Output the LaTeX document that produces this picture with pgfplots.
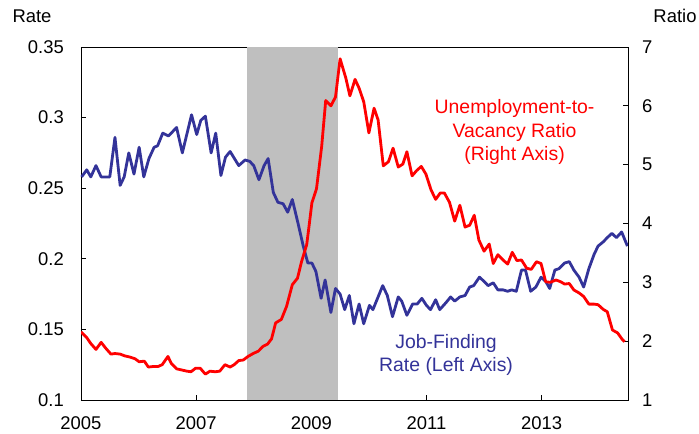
\documentclass[border=0pt]{standalone}
\usepackage{pgfplots}
\pgfplotsset{compat=1.18}
\usepackage{pgfplotstable}
\usepackage{fontspec}
\setmainfont{Liberation Sans}
\definecolor{jfblue}{RGB}{51,51,153}
\definecolor{uvred}{RGB}{255,0,0}
\definecolor{recgray}{RGB}{191,191,191}

\pgfplotstableread{
year rate
2005.01 0.258
2005.10 0.263
2005.17 0.258
2005.26 0.266
2005.35 0.258
2005.50 0.258
2005.59 0.286
2005.68 0.252
2005.75 0.258
2005.83 0.275
2005.92 0.260
2006.01 0.279
2006.09 0.258
2006.18 0.271
2006.27 0.279
2006.33 0.280
2006.42 0.289
2006.52 0.287
2006.66 0.293
2006.76 0.275
2006.92 0.302
2007.01 0.288
2007.08 0.298
2007.16 0.301
2007.26 0.275
2007.34 0.289
2007.43 0.259
2007.51 0.272
2007.59 0.276
2007.74 0.266
2007.85 0.270
2007.93 0.269
2008.00 0.266
2008.09 0.256
2008.18 0.266
2008.25 0.271
2008.34 0.247
2008.42 0.240
2008.51 0.239
2008.59 0.233
2008.67 0.242
2008.77 0.225
2008.86 0.209
2008.94 0.197
2009.01 0.197
2009.08 0.191
2009.17 0.172
2009.24 0.185
2009.34 0.162
2009.42 0.179
2009.50 0.175
2009.58 0.164
2009.66 0.174
2009.74 0.154
2009.83 0.168
2009.91 0.154
2010.01 0.167
2010.07 0.164
2010.24 0.181
2010.32 0.174
2010.41 0.159
2010.51 0.173
2010.57 0.170
2010.66 0.160
2010.76 0.168
2010.84 0.168
2010.92 0.172
2011.00 0.167
2011.07 0.164
2011.16 0.171
2011.23 0.164
2011.34 0.169
2011.42 0.173
2011.49 0.170
2011.58 0.173
2011.67 0.174
2011.75 0.180
2011.82 0.181
2011.92 0.187
2012.00 0.184
2012.07 0.181
2012.16 0.183
2012.24 0.178
2012.33 0.178
2012.41 0.177
2012.48 0.178
2012.56 0.177
2012.65 0.192
2012.72 0.192
2012.81 0.177
2012.90 0.180
2012.99 0.187
2013.07 0.184
2013.14 0.179
2013.23 0.192
2013.30 0.193
2013.40 0.197
2013.48 0.198
2013.56 0.192
2013.65 0.187
2013.73 0.180
2013.82 0.193
2013.91 0.203
2013.98 0.209
2014.07 0.212
2014.14 0.215
2014.22 0.218
2014.30 0.215
2014.39 0.219
2014.49 0.209
}\jobfinding

\pgfplotstableread{
year ratio
2005.00 2.16
2005.10 2.06
2005.17 1.96
2005.26 1.86
2005.35 1.98
2005.43 1.88
2005.52 1.78
2005.59 1.79
2005.68 1.78
2005.76 1.75
2005.85 1.73
2005.94 1.70
2006.01 1.65
2006.10 1.66
2006.17 1.56
2006.26 1.57
2006.34 1.57
2006.41 1.60
2006.51 1.74
2006.57 1.62
2006.66 1.53
2006.75 1.51
2006.84 1.49
2006.91 1.48
2006.99 1.54
2007.07 1.54
2007.16 1.44
2007.24 1.49
2007.33 1.48
2007.41 1.49
2007.50 1.60
2007.59 1.56
2007.66 1.60
2007.74 1.67
2007.82 1.68
2007.90 1.74
2007.99 1.79
2008.08 1.83
2008.16 1.91
2008.24 1.95
2008.31 2.04
2008.38 2.31
2008.48 2.37
2008.57 2.59
2008.67 2.96
2008.76 3.07
2008.83 3.35
2008.92 3.64
2008.96 3.95
2009.01 4.35
2009.09 4.59
2009.18 5.31
2009.25 6.09
2009.34 6.00
2009.42 6.15
2009.50 6.80
2009.60 6.47
2009.67 6.17
2009.76 6.45
2009.83 6.30
2009.91 6.07
2010.00 5.54
2010.09 5.96
2010.16 5.76
2010.25 4.98
2010.34 5.05
2010.42 5.28
2010.51 4.96
2010.59 5.01
2010.66 5.22
2010.75 4.81
2010.83 4.90
2010.91 4.97
2010.99 4.84
2011.08 4.57
2011.16 4.41
2011.24 4.52
2011.31 4.52
2011.40 4.36
2011.49 4.04
2011.58 4.31
2011.67 3.94
2011.75 3.97
2011.83 4.14
2011.91 3.72
2012.00 3.53
2012.09 3.65
2012.16 3.32
2012.24 3.47
2012.33 3.38
2012.41 3.31
2012.49 3.51
2012.57 3.37
2012.65 3.38
2012.74 3.24
2012.82 3.22
2012.91 3.35
2012.99 3.32
2013.07 3.01
2013.15 3.00
2013.25 3.04
2013.33 3.01
2013.40 2.97
2013.48 2.98
2013.56 2.87
2013.65 2.82
2013.73 2.76
2013.82 2.63
2013.91 2.63
2013.98 2.62
2014.07 2.54
2014.14 2.50
2014.23 2.19
2014.32 2.14
2014.40 2.03
2014.44 1.99
}\uvratio

\begin{document}
\begin{tikzpicture}
\path[use as bounding box] (-81bp,-34bp) rectangle (618bp,400bp);
\begin{axis}[
  scale only axis,
  width=547bp, height=353bp,
  xmin=2005, xmax=2014.5,
  ymin=0.1, ymax=0.35,
  xtick={2005,2007,2009,2011,2013},
  ytick={0.1,0.15,0.2,0.25,0.3,0.35},
  yticklabels={0.1,0.15,0.2,0.25,0.3,0.35},
  xticklabels={2005,2007,2009,2011,2013},
  xtick pos=left, ytick pos=left,
  tick align=inside,
  major tick length=5bp,
  tick style={black, line width=0.8bp},
  axis line style={black, line width=0.8bp},
  every tick label/.append style={font=\fontsize{18.5}{22}\selectfont},
  yticklabel style={inner sep=0pt, anchor=east, xshift=-17bp},
  xticklabel style={inner sep=0pt, anchor=north, yshift=-16bp},
  clip=false,
]
\addplot[draw=none, fill=recgray] coordinates {(2007.89,0.1) (2007.89,0.35) (2009.46,0.35) (2009.46,0.1)} -- cycle;
\addplot[jfblue, line width=2.8bp, line join=round] table[x=year, y=rate] {\jobfinding};
\node[jfblue, align=center, font=\fontsize{19.5}{24}\selectfont] at (axis cs:2011.34,0.1319) {Job-Finding\\Rate (Left Axis)};
\node[uvred, align=center, font=\fontsize{19.5}{24}\selectfont] at (axis cs:2012.53,0.2898) {Unemployment-to-\\Vacancy Ratio\\(Right Axis)};
\end{axis}
\begin{axis}[
  scale only axis,
  width=547bp, height=353bp,
  xmin=2005, xmax=2014.5,
  ymin=1, ymax=7,
  axis x line=none,
  axis y line*=right,
  ytick={1,2,3,4,5,6,7},
  yticklabels={1,2,3,4,5,6,7},
  /pgf/number format/assume math mode=true,
  tick align=inside,
  major tick length=5bp,
  tick style={black, line width=0.8bp},
  axis line style={black, line width=0.8bp, -},
  every tick label/.append style={font=\fontsize{18.5}{22}\selectfont},
  yticklabel style={inner sep=0pt, anchor=west, xshift=14bp},
]
\addplot[uvred, line width=2.8bp, line join=round] table[x=year, y=ratio] {\uvratio};
\end{axis}
\node[font=\fontsize{18.5}{22}\selectfont] at (-49bp,384bp) {Rate};
\node[font=\fontsize{18.5}{22}\selectfont] at (594bp,384bp) {Ratio};
\end{tikzpicture}
\end{document}
